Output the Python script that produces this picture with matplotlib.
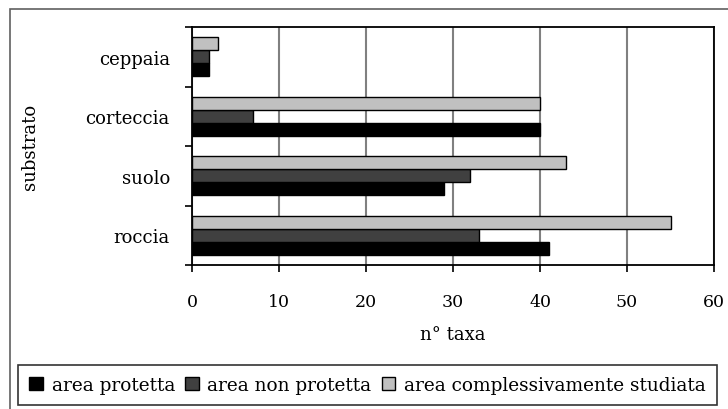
import matplotlib
matplotlib.use("Agg")
import matplotlib.pyplot as plt
from matplotlib.patches import Rectangle
import numpy as np

categories = ["roccia", "suolo", "corteccia", "ceppaia"]
series_names = ["area protetta", "area non protetta", "area complessivamente studiata"]
protetta = [41, 29, 40, 2]
non_protetta = [33, 32, 7, 2]
complessiva = [55, 43, 40, 3]
xticks = [0, 10, 20, 30, 40, 50, 60]

colors = ["#000000", "#404040", "#c0c0c0"]
plt.rcParams['font.family'] = ['DejaVu Serif']

fig = plt.figure(figsize=(7.28, 4.10), dpi=100)
W, H = 728, 410
ax = fig.add_axes([192 / W, 1 - 266 / H, (714 - 192) / W, (266 - 28) / H])

y = np.arange(len(categories))
h = 0.22
for i, (vals, off) in enumerate(zip([protetta, non_protetta, complessiva], [-h, 0, h])):
    ax.barh(y + off, vals, height=h, color=colors[i], edgecolor="black",
            linewidth=1.0, label=series_names[i], zorder=3)

ax.set_xlim(0, 60)
ax.set_ylim(-0.5, 3.5)
ax.set_xticks(xticks)
ax.set_xticklabels([str(t) for t in xticks], fontsize=12.5)
ax.set_yticks(y)
ax.set_yticklabels(categories, fontsize=13)
ax.tick_params(axis='y', which='major', length=0, pad=16)
ax.set_yticks(np.arange(-0.5, 4, 1), minor=True)
ax.tick_params(axis='y', which='minor', length=5, width=1.2, direction='out')
ax.tick_params(axis='x', which='major', length=5, width=1.2, direction='out', pad=15)
ax.xaxis.grid(True, color="#808080", linewidth=1.5, zorder=0)
ax.set_axisbelow(True)
for s in ax.spines.values():
    s.set_linewidth(1.3)
    s.set_color("black")
ax.set_xlabel("n° taxa", fontsize=13)
ax.xaxis.set_label_coords(0.5, -(335 - 266) / (266 - 28))
ax.xaxis.label.set_verticalalignment('center')
ax.set_ylabel("substrato", fontsize=13)
ax.yaxis.set_label_coords(-(192 - 30) / (714 - 192), 0.5)
ax.yaxis.label.set_verticalalignment('center')

# outer frame
fig.patches.append(Rectangle((10 / W, -0.02), 1.05, 1 - 10 / H + 0.02, transform=fig.transFigure,
                             fill=False, edgecolor="#606060", linewidth=1.2))

handles, labels = ax.get_legend_handles_labels()
leg = fig.legend(handles, labels, loc='center', ncol=3,
                 bbox_to_anchor=(367.5 / W, 1 - 386 / H),
                 fancybox=False, edgecolor='black', handlelength=0.75,
                 handleheight=0.75, handletextpad=0.45, columnspacing=0.55,
                 borderpad=0.6, prop={'family': 'DejaVu Serif', 'size': 13.3})
leg.get_frame().set_linewidth(1.2)

fig.savefig("out.png", dpi=100)
